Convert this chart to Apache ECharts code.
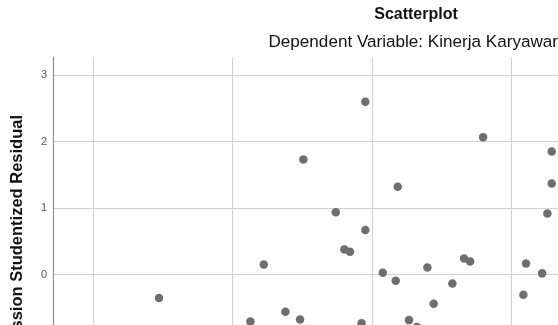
<!DOCTYPE html>
<html>
<head>
<meta charset="utf-8">
<script src="https://cdn.jsdelivr.net/npm/echarts@6/dist/echarts.min.js"></script>
<style>
html,body{margin:0;padding:0;background:#fff;}
#chart{width:558px;height:325px;}
</style>
</head>
<body>
<div id="chart"></div>
<script>
// Regression Standardized Predicted Value (x) and Studentized Residual (y)
const predicted = [-1.525, -0.774, -0.870, -0.046, -0.490, 0.186, -0.258, -0.046, -0.196, -0.156,
  0.079, 0.172, -0.619, -0.514, -0.073, 0.267, 0.323, 0.798, 1.290, 1.290,
  1.259, 0.399, 0.662, 0.705, 1.106, 1.221, 0.578, 1.087, 0.444];
const residual = [-0.355, 0.152, -0.708, 2.597, 1.731, 1.319, 0.938, 0.668, 0.377, 0.341,
  0.026, -0.095, -0.561, -0.675, -0.734, -0.686, -0.791, 2.066, 1.851, 1.370,
  0.919, 0.107, 0.242, 0.197, 0.167, 0.017, -0.134, -0.305, -0.441];
const titleText = 'Scatterplot';
const subtitleText = 'Dependent Variable: Kinerja Karyawan';
const yAxisName = 'Regression Studentized Residual';

const points = predicted.map((x, i) => [x, residual[i]]);

const chart = echarts.init(document.getElementById('chart'), null, {renderer: 'canvas'});
chart.setOption({
  animation: false,
  backgroundColor: '#ffffff',
  grid: {left: 53, top: 57, right: -100, bottom: -16, containLabel: false, outerBoundsMode: 'none'},
  xAxis: {
    type: 'value',
    min: -2.285, max: 2.052,
    minInterval: 1, maxInterval: 1,
    axisLine: {show: false, onZero: false},
    axisTick: {show: false},
    axisLabel: {show: false},
    splitLine: {show: true, showMinLine: false, showMaxLine: false, lineStyle: {color: '#d2d2d2', width: 1}}
  },
  yAxis: {
    type: 'value',
    min: -1, max: 3.271,
    minInterval: 1, maxInterval: 1,
    axisLine: {show: true, onZero: false, lineStyle: {color: '#929292', width: 1.2}},
    axisTick: {show: false},
    axisLabel: {show: true, color: '#555555', fontSize: 11, fontFamily: 'Liberation Sans', margin: 6, showMaxLabel: false},
    splitLine: {show: true, showMinLine: true, showMaxLine: false, lineStyle: {color: '#d2d2d2', width: 1}}
  },
  graphic: [
    {type: 'text', x: 416, y: 15, style: {text: titleText, font: 'bold 16px "Liberation Sans"', fill: '#111', textAlign: 'center', textVerticalAlign: 'middle'}},
    {type: 'text', x: 268.5, y: 42.5, style: {text: subtitleText, font: '17.1px "Liberation Sans"', fill: '#111', textAlign: 'left', textVerticalAlign: 'middle'}},
    {type: 'text', x: 17, y: 115, rotation: Math.PI / 2, style: {text: yAxisName, font: 'bold 16.5px "Liberation Sans"', fill: '#111', textAlign: 'right', textVerticalAlign: 'middle'}}
  ],
  series: [{
    type: 'scatter',
    data: points,
    symbol: 'circle',
    symbolSize: 8.5,
    itemStyle: {color: '#6e6e6e', opacity: 1},
    clip: false
  }]
});
</script>
</body>
</html>
